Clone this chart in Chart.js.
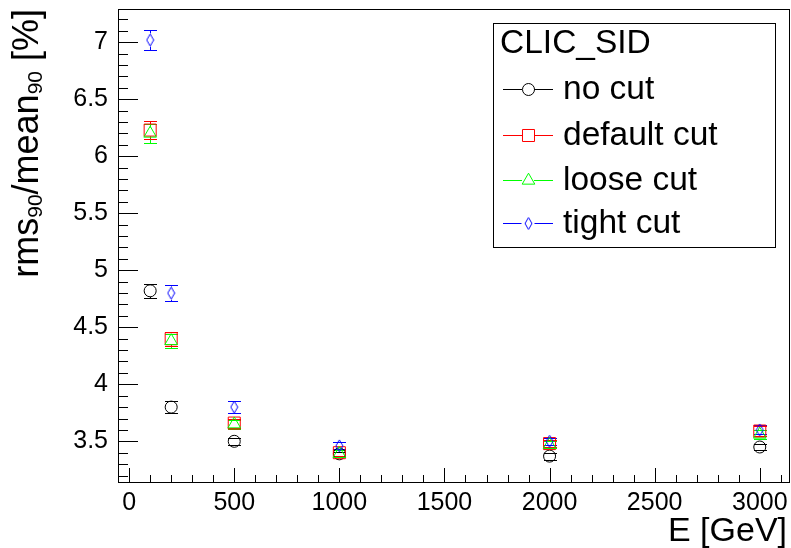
<!DOCTYPE html>
<html>
<head>
<meta charset="utf-8">
<script src="https://cdn.jsdelivr.net/npm/chart.js@4"></script>
<style>
  body { margin: 0; background: #fff; }
  #wrap { width: 791px; height: 548px; }
</style>
</head>
<body>
<div id="wrap"><canvas id="chart" width="791" height="548"></canvas></div>
<script>
// Beam energies (GeV)
const energies = [100, 200, 500, 1000, 2000, 3000];

// rms90/mean90 [%] per cut selection
const noCut      = [4.82, 3.80, 3.50, 3.39, 3.37, 3.45];
const noCutErr   = [0.06, 0.05, 0.03, 0.02, 0.03, 0.03];
const defaultCut = [6.23, 4.40, 3.66, 3.40, 3.48, 3.59];
const defaultErr = [0.08, 0.06, 0.04, 0.03, 0.03, 0.04];
const looseCut   = [6.20, 4.38, 3.65, 3.39, 3.47, 3.56];
const looseErr   = [0.08, 0.06, 0.04, 0.03, 0.03, 0.04];
const tightCut   = [7.02, 4.80, 3.80, 3.46, 3.50, 3.60];
const tightErr   = [0.09, 0.07, 0.05, 0.03, 0.03, 0.04];

// tick labels
const xTicks = [0, 500, 1000, 1500, 2000, 2500, 3000];
const yTicks = [3.5, 4, 4.5, 5, 5.5, 6, 6.5, 7];

const legendTitle = 'CLIC_SID';
const seriesNames = ['no cut', 'default cut', 'loose cut', 'tight cut'];

const FONT = '"Liberation Sans", Arial, Helvetica, sans-serif';

// smalle open ruit (ROOT marker 27)
function makeDiamond(color, w, h) {
  const c = document.createElement('canvas');
  c.width = w + 2;
  c.height = h + 2;
  const g = c.getContext('2d');
  g.strokeStyle = color;
  g.lineWidth = 1;
  g.beginPath();
  g.moveTo(c.width / 2, 1);
  g.lineTo(c.width - 1, c.height / 2);
  g.lineTo(c.width / 2, c.height - 1);
  g.lineTo(1, c.height / 2);
  g.closePath();
  g.stroke();
  return c;
}
const diamond = makeDiamond('#0000ff', 7, 12);

function toPoints(ys) {
  return energies.map((e, i) => ({ x: e, y: ys[i] }));
}

// Foutbalken onder de markers
const errorBars = {
  id: 'errorBars',
  beforeDatasetsDraw(chart) {
    const ctx = chart.ctx;
    const ys = chart.scales.y;
    chart.data.datasets.forEach((ds, i) => {
      const meta = chart.getDatasetMeta(i);
      ctx.save();
      ctx.strokeStyle = ds.borderColor;
      ctx.lineWidth = 1;
      meta.data.forEach((pt, j) => {
        const x = Math.round(pt.x) + 0.5;
        const top = Math.round(ys.getPixelForValue(ds.data[j].y + ds.errors[j])) + 0.5;
        const bot = Math.round(ys.getPixelForValue(ds.data[j].y - ds.errors[j])) + 0.5;
        const gap = ds.gap;
        ctx.beginPath();
        if (top < pt.y - gap) { ctx.moveTo(x, top); ctx.lineTo(x, pt.y - gap); }
        if (bot > pt.y + gap) { ctx.moveTo(x, pt.y + gap); ctx.lineTo(x, bot); }
        ctx.moveTo(x - 6.5, top); ctx.lineTo(x + 6.5, top);
        ctx.moveTo(x - 6.5, bot); ctx.lineTo(x + 6.5, bot);
        ctx.stroke();
      });
      ctx.restore();
    });
  }
};

// ROOT-achtig kader met ticks naar binnen, titels en legenda
const rootFrame = {
  id: 'rootFrame',
  beforeDatasetsDraw(chart) {
    const { ctx, chartArea: a } = chart;
    const xs = chart.scales.x, ys = chart.scales.y;
    ctx.save();
    ctx.strokeStyle = '#000';
    ctx.lineWidth = 1;
    ctx.strokeRect(Math.round(a.left) + 0.5, Math.round(a.top) + 0.5,
                   Math.round(a.right - a.left), Math.round(a.bottom - a.top));
    ctx.beginPath();
    for (let v = 0; v <= xs.max; v += 100) {
      const px = Math.round(xs.getPixelForValue(v)) + 0.5;
      const len = v % 500 === 0 ? 14 : 7;
      ctx.moveTo(px, a.bottom);
      ctx.lineTo(px, a.bottom - len);
    }
    for (let k = 32; k <= 72; k++) {
      const v = k / 10;
      if (v < ys.min || v > ys.max) continue;
      const py = Math.round(ys.getPixelForValue(v)) + 0.5;
      const len = k % 5 === 0 ? 20 : 10;
      ctx.moveTo(a.left, py);
      ctx.lineTo(a.left + len, py);
    }
    ctx.stroke();

    // x tick labels (zelf getekend zodat het kader tot de rand loopt)
    ctx.fillStyle = '#000';
    ctx.font = '25px ' + FONT;
    ctx.textAlign = 'center';
    ctx.textBaseline = 'alphabetic';
    xTicks.forEach(v => {
      ctx.fillText(String(v), xs.getPixelForValue(v), a.bottom + 28);
    });
    ctx.restore();
  },
  afterDraw(chart) {
    const ctx = chart.ctx;
    ctx.save();
    ctx.fillStyle = '#000';

    // x-as titel
    ctx.font = '34px ' + FONT;
    ctx.textAlign = 'right';
    ctx.textBaseline = 'alphabetic';
    ctx.fillText('E [GeV]', 787, 541);

    // y-as titel met subscripts
    ctx.save();
    ctx.translate(38, 9);
    ctx.rotate(-Math.PI / 2);
    const parts = [
      ['rms', false], ['90', true], ['/mean', false], ['90', true], [' [%]', false]
    ];
    const mainFont = '36px ' + FONT, subFont = '21px ' + FONT;
    let total = 0;
    parts.forEach(p => { ctx.font = p[1] ? subFont : mainFont; total += ctx.measureText(p[0]).width; });
    let cx = -total;
    ctx.textAlign = 'left';
    parts.forEach(p => {
      ctx.font = p[1] ? subFont : mainFont;
      ctx.fillText(p[0], cx, p[1] ? 4 : 0);
      cx += ctx.measureText(p[0]).width;
    });
    ctx.restore();

    // legenda
    const box = { x: 493.5, y: 23.5, w: 282, h: 224 };
    ctx.fillStyle = '#fff';
    ctx.fillRect(box.x, box.y, box.w, box.h);
    ctx.strokeStyle = '#000';
    ctx.lineWidth = 1;
    ctx.strokeRect(box.x, box.y, box.w, box.h);
    ctx.fillStyle = '#000';
    ctx.textAlign = 'left';
    ctx.textBaseline = 'middle';
    ctx.font = '33.5px ' + FONT;
    ctx.fillText(legendTitle, 500, 44);
    const rows = [89, 135, 180, 223];
    chart.data.datasets.forEach((ds, i) => {
      const yy = rows[i] + 0.5;
      const r = ds.gap;
      ctx.strokeStyle = ds.borderColor;
      ctx.fillStyle = 'rgba(0,0,0,0)';
      ctx.beginPath();
      ctx.moveTo(503, yy); ctx.lineTo(528 - r, yy);
      ctx.moveTo(528 + r, yy); ctx.lineTo(553, yy);
      ctx.stroke();
      Chart.helpers.drawPoint(ctx, {
        pointStyle: ds.pointStyle, radius: ds.pointRadius, borderWidth: 1, rotation: 0
      }, 528.5, yy);
      ctx.fillStyle = '#000';
      ctx.font = '33.5px ' + FONT;
      ctx.fillText(seriesNames[i], 563, rows[i] + 1);
    });
    ctx.restore();
  }
};

const tickFont = { family: FONT, size: 25 };

// vaste as-afmetingen, geen extra ruimte voor uitstekende labels
function fixAxis(size, key) {
  return s => {
    s[key] = size;
    s.paddingTop = 0; s.paddingBottom = 0; s.paddingLeft = 0; s.paddingRight = 0;
  };
}

new Chart(document.getElementById('chart').getContext('2d'), {
  type: 'scatter',
  data: {
    datasets: [
      { label: seriesNames[0], data: toPoints(noCut), errors: noCutErr, gap: 6,
        pointStyle: 'circle', pointRadius: 6, borderColor: '#000000',
        backgroundColor: 'transparent', borderWidth: 1, order: 3 },
      { label: seriesNames[1], data: toPoints(defaultCut), errors: defaultErr, gap: 6,
        pointStyle: 'rect', pointRadius: 8.5, borderColor: '#ff0000',
        backgroundColor: 'transparent', borderWidth: 1, order: 2 },
      { label: seriesNames[2], data: toPoints(looseCut), errors: looseErr, gap: 6,
        pointStyle: 'triangle', pointRadius: 7.3, borderColor: '#00ff00',
        backgroundColor: 'transparent', borderWidth: 1, order: 1 },
      { label: seriesNames[3], data: toPoints(tightCut), errors: tightErr, gap: 6.5,
        pointStyle: diamond, pointRadius: 6, borderColor: '#0000ff',
        backgroundColor: 'transparent', borderWidth: 1, order: 0 }
    ]
  },
  options: {
    responsive: false,
    animation: false,
    devicePixelRatio: 1,
    layout: { autoPadding: false, padding: { top: 9, right: 2, left: 0, bottom: 0 } },
    plugins: { legend: { display: false }, tooltip: { enabled: false } },
    scales: {
      x: {
        type: 'linear', min: -53, max: 3139, bounds: 'data',
        grid: { display: false, drawTicks: false },
        border: { display: false },
        afterBuildTicks: s => { s.ticks = xTicks.map(v => ({ value: v })); },
        ticks: { display: false },
        afterFit: fixAxis(66, 'height')
      },
      y: {
        type: 'linear', min: 3.143, max: 7.292, bounds: 'data',
        grid: { display: false, drawTicks: false },
        border: { display: false },
        afterBuildTicks: s => { s.ticks = yTicks.map(v => ({ value: v })); },
        ticks: {
          autoSkip: false,
          color: '#000', font: tickFont, padding: 10,
          callback: v => String(v)
        },
        afterFit: fixAxis(118, 'width')
      }
    }
  },
  plugins: [errorBars, rootFrame]
});
</script>
</body>
</html>
